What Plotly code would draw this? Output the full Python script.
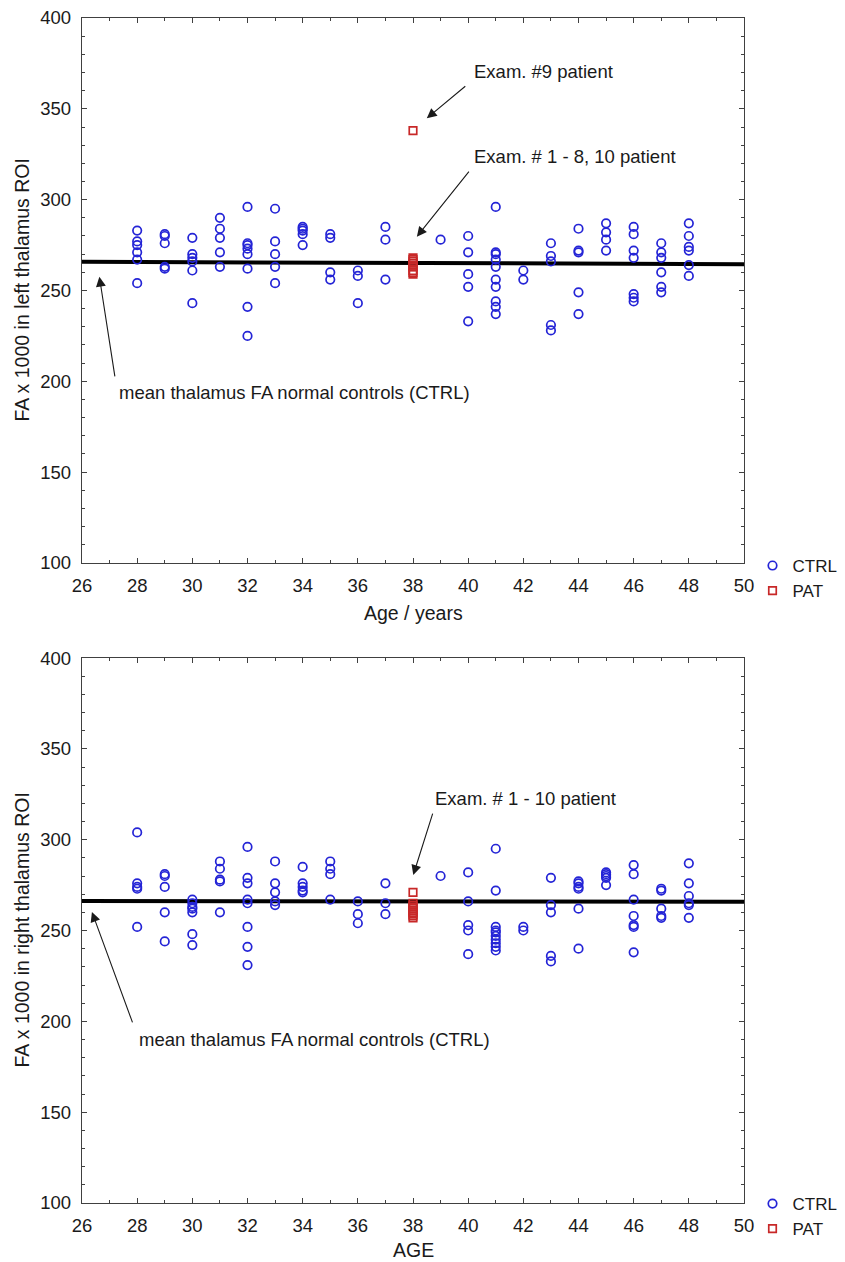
import plotly.graph_objects as go

# ---------------- data ----------------
AGES = [28, 29, 30, 31, 32, 33, 34, 35, 36, 37, 39, 40, 41, 42, 43, 44, 45, 46, 47, 48]

LEFT_CTRL_FA = [
    [283, 277, 275, 271, 267, 254],
    [281, 280, 276, 263, 262],
    [279, 270, 268, 266, 261, 243],
    [290, 284, 279, 271, 263],
    [296, 276, 275, 273, 270, 262, 241, 225],
    [295, 277, 270, 263, 254],
    [285, 284, 283, 281, 275],
    [281, 279, 260, 256],
    [261, 258, 243],
    [285, 278, 256],
    [278],
    [280, 271, 259, 252, 233],
    [296, 271, 270, 267, 263, 256, 252, 244, 241, 237],
    [261, 256],
    [276, 269, 266, 231, 228],
    [284, 272, 271, 249, 237],
    [287, 282, 278, 272],
    [285, 281, 272, 268, 248, 246, 244],
    [276, 271, 268, 260, 252, 249],
    [287, 280, 274, 272, 264, 258],
]

RIGHT_CTRL_FA = [
    [304, 276, 274, 273, 252],
    [281, 280, 274, 260, 244],
    [267, 265, 263, 262, 260, 248, 242],
    [288, 284, 278, 277, 260],
    [296, 279, 276, 267, 265, 252, 241, 231],
    [288, 276, 271, 266, 264],
    [285, 276, 274, 272, 271],
    [288, 284, 281, 267],
    [266, 259, 254],
    [276, 265, 259],
    [280],
    [282, 266, 253, 250, 237],
    [295, 272, 252, 250, 249, 247, 245, 243, 241, 239],
    [252, 250],
    [279, 264, 260, 236, 233],
    [277, 276, 274, 273, 262, 240],
    [282, 281, 280, 279, 275],
    [286, 281, 267, 258, 253, 252, 238],
    [273, 272, 262, 258, 257],
    [287, 276, 269, 265, 264, 257],
]

PAT_AGE = 38
LEFT_PAT_FA = [268, 267, 266, 265, 264, 263, 261, 260, 259, 338]   # exam 9 = 338
RIGHT_PAT_FA = [271, 265, 264, 263, 262, 261, 260, 259, 258, 257]

MEAN_X = [26, 50]
LEFT_MEAN = [265.8, 264.5]
RIGHT_MEAN = [266.3, 265.8]

X_RANGE = [26, 50]
Y_RANGE = [100, 400]


def flatten(ages, groups):
    xs, ys = [], []
    for a, g in zip(ages, groups):
        for v in g:
            xs.append(a)
            ys.append(v)
    return xs, ys


FONT = "Liberation Sans, Arial, sans-serif"
BLUE = "#2424d6"
RED = "#c82828"
AXC = "#404040"
TXT = "#1a1a1a"

fig = go.Figure()

for xa, ya, ctrl, pat, mean, leg in [
    ("x", "y", LEFT_CTRL_FA, LEFT_PAT_FA, LEFT_MEAN, "legend"),
    ("x2", "y2", RIGHT_CTRL_FA, RIGHT_PAT_FA, RIGHT_MEAN, "legend2"),
]:
    fig.add_trace(go.Scatter(x=MEAN_X, y=mean, mode="lines", xaxis=xa, yaxis=ya,
                             line=dict(color="black", width=4),
                             showlegend=False, hoverinfo="skip"))
    cx, cy = flatten(AGES, ctrl)
    fig.add_trace(go.Scatter(x=cx, y=cy, mode="markers", name="CTRL", xaxis=xa, yaxis=ya,
                             marker=dict(symbol="circle-open", size=8.5, color=BLUE,
                                         line=dict(width=1.7, color=BLUE)),
                             legend=leg))
    fig.add_trace(go.Scatter(x=[PAT_AGE] * len(pat), y=pat, mode="markers", name="PAT",
                             xaxis=xa, yaxis=ya,
                             marker=dict(symbol="square-open", size=7.5, color=RED,
                                         line=dict(width=1.7, color=RED)),
                             legend=leg))

tickfont = dict(family=FONT, size=18.5, color=TXT)
tfont = dict(family=FONT, size=19.5, color=TXT)


def xaxis(anchor):
    return dict(range=X_RANGE, dtick=2, tick0=26, anchor=anchor, domain=[0, 1],
                minor=dict(dtick=1, ticks="inside", ticklen=3, tickcolor=AXC),
                showline=True, linecolor=AXC, linewidth=1.3, mirror="allticks",
                ticks="inside", ticklen=5, tickcolor=AXC, tickwidth=1.2,
                showgrid=False, zeroline=False, tickfont=tickfont, ticklabelstandoff=6,
                ticklabeloverflow="allow", automargin=False)


def yaxis(anchor, domain):
    return dict(range=Y_RANGE, dtick=50, tick0=100, anchor=anchor, domain=domain,
                minor=dict(dtick=10, ticks="inside", ticklen=3, tickcolor=AXC),
                showline=True, linecolor=AXC, linewidth=1.3, mirror="allticks",
                ticks="inside", ticklen=5, tickcolor=AXC, tickwidth=1.2,
                showgrid=False, zeroline=False, tickfont=tickfont, ticklabelstandoff=6,
                ticklabeloverflow="allow", automargin=False)


afont = dict(family=FONT, size=18.5, color=TXT)
annotations = []


def arrow(xr, yr, hx, hy, tx, ty):
    annotations.append(dict(xref=xr, yref=yr, x=hx, y=hy, axref=xr, ayref=yr, ax=tx, ay=ty,
                            text="", showarrow=True, arrowhead=2, arrowsize=1.8,
                            arrowwidth=1.1, arrowcolor=TXT))


def label(xr, yr, x, y, txt):
    annotations.append(dict(xref=xr, yref=yr, x=x, y=y, text=txt, showarrow=False,
                            xanchor="left", yanchor="middle", font=afont))


def title(x, y, txt, angle=0):
    annotations.append(dict(xref="paper", yref="paper", x=x, y=y, text=txt, showarrow=False,
                            xanchor="center", yanchor="middle", textangle=angle, font=tfont))


# axis titles
title(0.5, 0.4979, "Age / years")
title(0.5, -0.0397, "AGE")
title(-0.0906, 0.770, "FA x 1000 in left thalamus ROI", -90)
title(-0.0906, 0.230, "FA x 1000 in right thalamus ROI", -90)

# top panel annotations
arrow("x", "y", 38.50, 344.8, 39.95, 363.1)
label("x", "y", 40.14, 370.3, "Exam. #9 patient")
arrow("x", "y", 38.14, 279.6, 40.07, 316.3)
label("x", "y", 40.14, 324.0, "Exam. # 1 - 8, 10 patient")
arrow("x", "y", 26.63, 257.6, 27.20, 201.9)
label("x", "y", 27.27, 193.6, "mean thalamus FA normal controls (CTRL)")

# bottom panel annotations
arrow("x2", "y2", 38.01, 280.6, 38.73, 315.2)
label("x2", "y2", 38.73, 322.9, "Exam. # 1 - 10 patient")
arrow("x2", "y2", 26.36, 260.2, 27.85, 198.6)
label("x2", "y2", 27.99, 189.8, "mean thalamus FA normal controls (CTRL)")

legfont = dict(family=FONT, size=17, color=TXT)
fig.update_layout(
    width=837, height=1254,
    margin=dict(l=74, r=101, t=10, b=59, autoexpand=False),
    paper_bgcolor="white", plot_bgcolor="white",
    xaxis=xaxis("y"),
    yaxis=yaxis("x", [0.5401, 1.0]),
    xaxis2=xaxis("y2"),
    yaxis2=yaxis("x2", [0.0, 0.4599]),
    annotations=annotations,
    legend=dict(xref="container", yref="container", x=0.8895, y=0.5694,
                xanchor="left", yanchor="top", font=legfont,
                bgcolor="rgba(0,0,0,0)", itemwidth=30, tracegroupgap=0),
    legend2=dict(xref="container", yref="container", x=0.8895, y=0.0606,
                 xanchor="left", yanchor="top", font=legfont,
                 bgcolor="rgba(0,0,0,0)", itemwidth=30, tracegroupgap=0),
    showlegend=True,
)

fig.write_html("out.html")
